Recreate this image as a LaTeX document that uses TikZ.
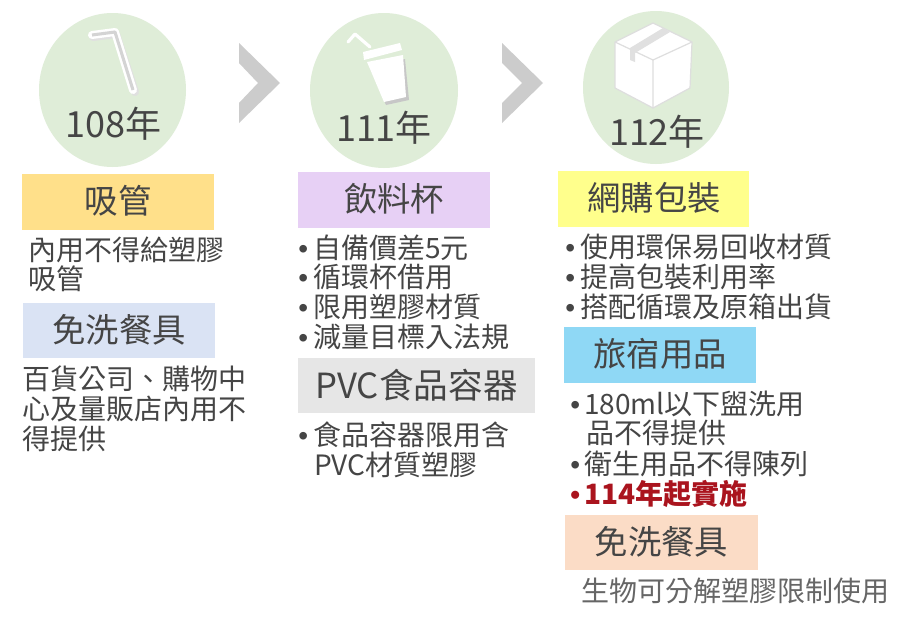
\documentclass[tikz,border=0pt]{standalone}
\usepackage{fontspec}
\setmainfont{Noto Sans CJK TC}
\newfontfamily\blfont{Liberation Sans}
\newcommand{\blt}[1][11.25pt]{\makebox[#1][l]{\blfont •}}
\definecolor{txt}{HTML}{454545}
\definecolor{txtlight}{HTML}{666666}
\definecolor{circ}{HTML}{DFEDD8}
\definecolor{chev}{HTML}{CCCCCC}
\tikzset{
  year/.style={font=\fontsize{27}{27}\selectfont,text=txt,inner sep=0pt},
  head/.style={font=\fontsize{25}{25}\selectfont,text=txt,inner sep=0pt},
  body/.style={font=\fontsize{21}{21}\selectfont,text=txt,inner sep=0pt,anchor=west},
  disc/.style={fill=circ,draw=none},
  band/.style={draw=none,minimum height=42pt,inner sep=0pt},
  chevron/.style={fill=chev,draw=none},
  icon/.style={fill=white,draw=none},
  iconline/.style={draw=white,line width=2.4pt,line cap=round,line join=round}
}
\begin{document}
\begin{tikzpicture}[x=0.75pt,y=-0.75pt]
\useasboundingbox (0,0) rectangle (908,629);
\fill[white] (0,0) rectangle (908,629);
% discs
\fill[disc] (112.5,90) ellipse [x radius=73.5,y radius=77];
\fill[disc] (384,90.5) ellipse [x radius=74,y radius=77.5];
\fill[disc] (656,87.5) ellipse [x radius=73,y radius=76.5];
% chevrons
\fill[chevron] (239,43)--(280,83)--(239,123)--(239,103)--(258,83)--(239,63)--cycle;
\fill[chevron] (502,43)--(543,83)--(502,123)--(502,103)--(522,83)--(502,63)--cycle;
% straw
\draw[draw=black!12,line width=6pt,line cap=round,line join=round] (93,37)--(116,34)--(135,92);
\draw[draw=white,line width=6pt,line cap=round,line join=round] (92,35)--(115,32)--(133,90);
\draw[draw=black!17,line width=2.3pt,line join=round] (92,35)--(115,32)--(133,90);
% cup
\fill[black!22] (369,66)--(405,59)--(409,100)--(386,105)--cycle;
\fill[icon] (367,62)--(403,55)--(406,97)--(384,102)--cycle;
\fill[icon] (363,52)--(400,43)--(402,50)--(364,60)--cycle;
\draw[iconline] (348,42)--(355,34)--(370,47);
% box
\fill[icon] (653,23)--(692,42)--(690,88)--(653,108)--(615,88)--(615,42)--cycle;
\draw[draw=black!13,line width=0.9pt,line join=round] (653,23)--(692,42)--(690,88)--(653,108)--(615,88)--(615,42)--cycle;
\draw[draw=black!13,line width=0.9pt,line join=round] (615,42)--(653,60)--(692,42) (653,60)--(653,108);
\fill[black!12] (630,48)--(663,28)--(670,32)--(635,53)--(635,62)--(630,60)--cycle;
% year labels
\node[year] (y108) at (113.5,124) {108年};
\node[year] (y111) at (384,128) {111年};
\node[year] (y112) at (657,132) {112年};
% header bands
\node[band,fill={rgb,255:red,255;green,224;blue,138},minimum width=144pt] (b1) at (118,202) {};
\node[head] (b1t) at (118,201) {吸管};
\node[band,fill={rgb,255:red,218;green,227;blue,244},minimum width=144pt,minimum height=41.5pt] (b2) at (119,330.5) {};
\node[head] (b2t) at (119,330) {免洗餐具};
\node[band,fill={rgb,255:red,231;green,208;blue,245},minimum width=144pt] (b3) at (394,200) {};
\node[head] (b3t) at (394,199) {飲料杯};
\node[band,fill={rgb,255:red,230;green,230;blue,230},minimum width=177.75pt,minimum height=41.25pt] (b4) at (416.5,385.5) {};
\node[head,font=\fontsize{26}{26}\selectfont] (b4t) at (416.5,385) {PVC食品容器};
\node[band,fill={rgb,255:red,255;green,255;blue,140},minimum width=143.25pt] (b5) at (653.5,199) {};
\node[head] (b5t) at (654,198) {網購包裝};
\node[band,fill={rgb,255:red,143;green,216;blue,245},minimum width=144pt] (b6) at (660,355) {};
\node[head] (b6t) at (660,354) {旅宿用品};
\node[band,fill={rgb,255:red,251;green,220;blue,198},minimum width=144.75pt,minimum height=41.25pt] (b7) at (661.5,542.5) {};
\node[head] (b7t) at (661.5,542) {免洗餐具};
% body text, left column
\node[body] (a1) at (28,250) {內用不得給塑膠};
\node[body] (a2) at (28,279) {吸管};
\node[body] (a3) at (22,379) {百貨公司、購物中};
\node[body] (a4) at (22,409) {心及量販店內用不};
\node[body] (a5) at (22,439) {得提供};
% middle column
\node[body] (c1) at (298,248) {\blt 自備價差5元};
\node[body] (c2) at (298,277) {\blt 循環杯借用};
\node[body] (c3) at (298,307) {\blt 限用塑膠材質};
\node[body] (c4) at (298,337) {\blt 減量目標入法規};
\node[body] (c5) at (298,435) {\blt 食品容器限用含};
\node[body] (c6) at (314,465) {PVC材質塑膠};
% right column
\node[body] (d1) at (565,247) {\blt 使用環保易回收材質};
\node[body] (d2) at (565,277) {\blt 提高包裝利用率};
\node[body] (d3) at (565,307) {\blt 搭配循環及原箱出貨};
\node[body] (d4) at (570,404) {\blt[10.5pt]180ml以下盥洗用};
\node[body] (d5) at (586,433) {品不得提供};
\node[body] (d6) at (570,464) {\blt[10.5pt]衛生用品不得陳列};
\node[body,font=\fontsize{21}{21}\selectfont\bfseries,text={rgb,255:red,170;green,20;blue,30}] (d7) at (570,494) {\blt[10.5pt]114年起實施};
\node[body,text=txtlight] (d8) at (581,591) {生物可分解塑膠限制使用};
\end{tikzpicture}
\end{document}
